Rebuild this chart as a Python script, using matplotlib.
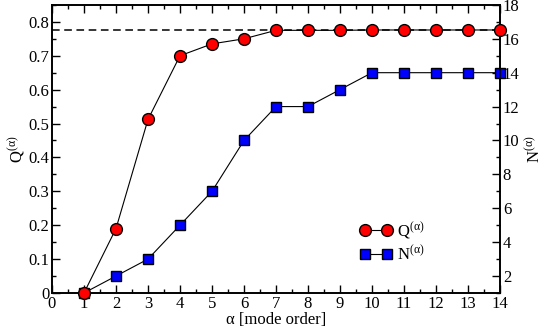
import matplotlib
matplotlib.use("Agg")
import matplotlib.pyplot as plt
from matplotlib.ticker import MultipleLocator, FixedLocator

plt.rcParams["font.family"] = ["Liberation Serif", "DejaVu Serif"]
plt.rcParams["mathtext.fontset"] = "custom"
plt.rcParams["mathtext.rm"] = "Liberation Serif"
plt.rcParams["mathtext.it"] = "Liberation Serif:italic"

modes = [1, 2, 3, 4, 5, 6, 7, 8, 9, 10, 11, 12, 13, 14]
q_values = [0.0, 0.19, 0.512, 0.70, 0.735, 0.75, 0.775, 0.775, 0.775, 0.776, 0.776, 0.776, 0.776, 0.776]
n_values = [1, 2, 3, 5, 7, 10, 12, 12, 13, 14, 14, 14, 14, 14]
q_limit = 0.777


def style_ticks(axis):
    axis.tick_params(which="both", direction="in", width=1.0, labelsize=12, pad=2)
    axis.tick_params(which="major", length=6)
    axis.tick_params(which="minor", length=3)


fig = plt.figure(figsize=(5.45, 3.27), dpi=100)
ax = fig.add_axes([0.0954, 0.104, 0.822, 0.881])
ax2 = ax.twinx()

ax.set_zorder(ax2.get_zorder() + 1)
ax.patch.set_visible(False)

ax.axhline(q_limit, color="black", ls=(0, (5, 3)), lw=1.1, zorder=1)
lq, = ax.plot(modes, q_values, "-o", color="black", lw=0.8, ms=8.5,
              mfc="red", mec="black", mew=1.0, label=r"Q$^{(\mathrm{\alpha})}$",
              zorder=3, clip_on=False)
ln, = ax2.plot(modes, n_values, "-s", color="black", lw=0.8, ms=7,
               mfc="blue", mec="black", mew=1.0, label=r"N$^{(\mathrm{\alpha})}$",
               zorder=3, clip_on=False)

ax.set_xlim(0, 14)
ax.set_ylim(0, 0.85)
ax2.set_ylim(1, 18)

ax.xaxis.set_major_locator(MultipleLocator(1))
ax.xaxis.set_minor_locator(MultipleLocator(0.5))
ax.yaxis.set_major_locator(MultipleLocator(0.1))
ax.yaxis.set_minor_locator(MultipleLocator(0.05))
ax.yaxis.set_major_formatter(plt.FuncFormatter(lambda v, p: "0" if abs(v) < 1e-9 else f"{v:.1f}"))
ax2.yaxis.set_major_locator(FixedLocator([2, 4, 6, 8, 10, 12, 14, 16, 18]))
ax2.yaxis.set_minor_locator(MultipleLocator(1))

style_ticks(ax)
style_ticks(ax2)
ax.tick_params(which="both", top=True, right=False)
ax2.tick_params(which="both", left=False, right=True)

for a in (ax, ax2):
    for s in a.spines.values():
        s.set_linewidth(1.2)

ax.set_xlabel("α [mode order]", fontsize=12, labelpad=0)
ax.set_ylabel(r"Q$^{(\mathrm{\alpha})}$", fontsize=12, labelpad=1)
ax2.set_ylabel(r"N$^{(\mathrm{\alpha})}$", fontsize=12, labelpad=4)

ax.legend(handles=[lq, ln], loc="upper left", bbox_to_anchor=(0.655, 0.305),
          frameon=False, numpoints=2, handlelength=1.9, fontsize=12,
          labelspacing=0.25, handletextpad=0.3)

fig.savefig("out.png", dpi=100)
